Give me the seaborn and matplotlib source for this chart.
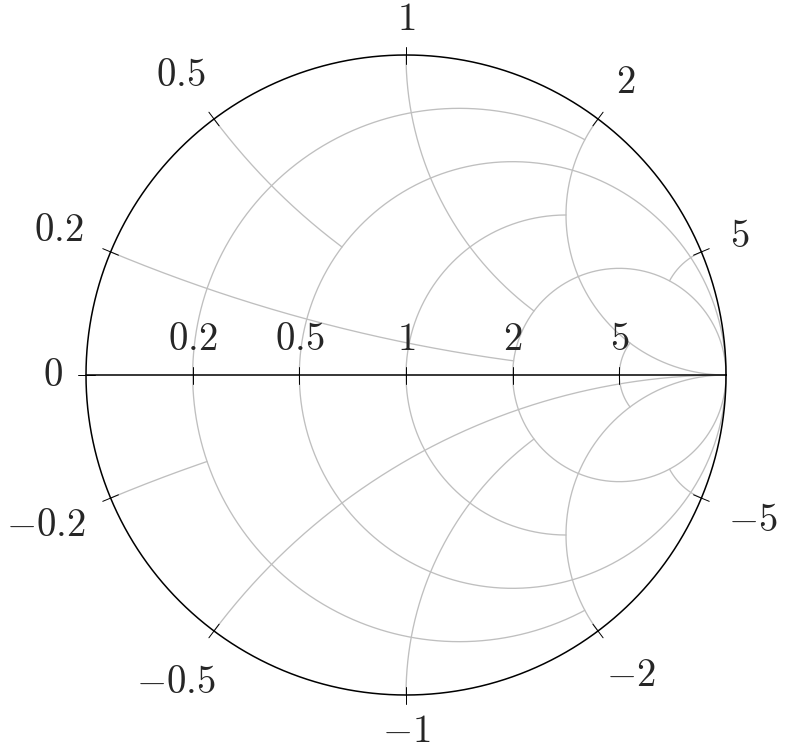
import numpy as np
import pandas as pd
import seaborn as sns
import matplotlib.pyplot as plt

# grid values of the smith chart
resistances = [0.2, 0.5, 1, 2, 5]
r_stop = [2, np.inf, 2, np.inf, 2]          # |reactance| where each resistance circle ends
reactances = [0.2, 0.5, 1, 2, 5, -0.2, -0.5, -1, -2, -5]
x_stop = [2, 0.5, 2, np.inf, 2, 0.2, np.inf, 2, np.inf, 2]   # resistance where each reactance arc ends
r_labels = ['0.2', '0.5', '1', '2', '5']
edge_ticks = [0] + reactances
edge_labels = ['0', '0.2', '0.5', '1', '2', '5', '-0.2', '-0.5', '-1', '-2', '-5']

sns.set_style('white')
plt.rcParams['mathtext.fontset'] = 'cm'

R_PX = 320.0   # chart radius in pixels
W, H = 785, 750
CX, CY = 406, 375


def gamma(z):
    return (z - 1) / (z + 1)


# build grid curves
parts = []
for r, stop in zip(resistances, r_stop):
    for sign in (1, -1):
        t = np.linspace(0, np.arctan(stop), 400)
        g = gamma(r + 1j * sign * np.tan(t))
        parts.append(pd.DataFrame({'u': g.real, 'v': g.imag, 'line': f'r{r}_{sign}'}))
for x, stop in zip(reactances, x_stop):
    t = np.linspace(0, np.arctan(stop), 400)
    g = gamma(np.tan(t) + 1j * x)
    parts.append(pd.DataFrame({'u': g.real, 'v': g.imag, 'line': f'x{x}'}))
grid = pd.concat(parts, ignore_index=True)

fig = plt.figure(figsize=(W / 100, H / 100), dpi=100)
ax = fig.add_axes([0, 0, 1, 1])
ax.set_xlim(-CX / R_PX, (W - CX) / R_PX)
ax.set_ylim(-(H - CY) / R_PX, CY / R_PX)
ax.set_axis_off()

sns.lineplot(data=grid, x='u', y='v', units='line', estimator=None, sort=False,
             color='#bfbfbf', linewidth=0.95, ax=ax, legend=False)

# outline and real axis
th = np.linspace(0, 2 * np.pi, 721)
ax.plot(np.cos(th), np.sin(th), color='black', lw=1.1)
ax.plot([-1, 1], [0, 0], color='black', lw=1.1)

# ticks
tl = 8.5 / R_PX
for x in edge_ticks:
    p = gamma(1j * x)
    ax.plot([p.real * (1 - tl), p.real * (1 + tl)], [p.imag * (1 - tl), p.imag * (1 + tl)],
            color='black', lw=0.7)
for r in resistances:
    p = gamma(r)
    ax.plot([p, p], [-tl, tl], color='black', lw=0.7)

# labels
FS = 28
texts = []
for r, lab in zip(resistances, r_labels):
    p = gamma(r)
    t = ax.text(p, 0, f'${lab}$', fontsize=FS, ha='center', va='center')
    texts.append((t, complex(p, 0), 0.0, 1.0, 23.0))
for x, lab in zip(edge_ticks, edge_labels):
    p = gamma(1j * x)
    ux, uy = p.real, p.imag
    t = ax.text(p.real, p.imag, f'${lab}$', fontsize=FS, ha='center', va='center')
    texts.append((t, p, ux, uy, 23.0 + 14.0 * abs(ux * uy)))

fig.canvas.draw()
rend = fig.canvas.get_renderer()
for t, p, ux, uy, gap in texts:
    bb = t.get_window_extent(rend)
    d = gap + abs(ux) * bb.width / 2 + abs(uy) * (bb.height / 2 - 6)
    t.set_position((p.real + ux * d / R_PX, p.imag + uy * d / R_PX))

fig.savefig('out.png', dpi=100)
